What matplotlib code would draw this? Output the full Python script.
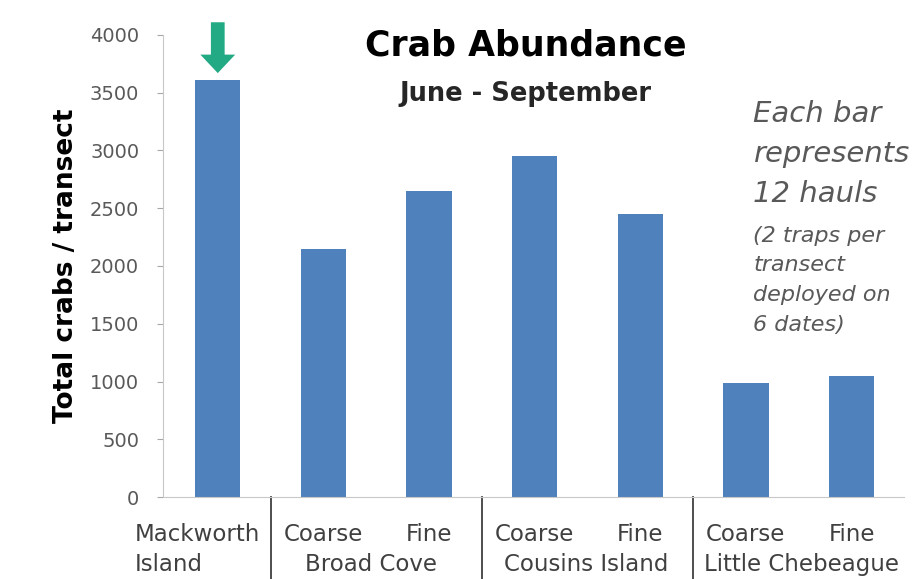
import matplotlib
matplotlib.use('Agg')
from matplotlib import pyplot as plt
from matplotlib import transforms

plt.rcParams['font.family'] = ['DejaVu Sans']

# data
mesh = ['', 'Coarse', 'Fine', 'Coarse', 'Fine', 'Coarse', 'Fine']
crabs = [3610, 2150, 2650, 2950, 2450, 990, 1050]
group_names = ['Broad Cove', 'Cousins Island', 'Little Chebeague']
first_site = ['Mackworth', 'Island']
yticks = [0, 500, 1000, 1500, 2000, 2500, 3000, 3500, 4000]

bar_color = '#4F81BD'
grey_txt = '#595959'
lab_txt = '#404040'

fig = plt.figure(figsize=(9.2, 5.79), dpi=100)
ax = fig.add_axes([0.177, 0.1416, 0.806, 0.798])

x = list(range(len(crabs)))
ax.bar(x, crabs, width=0.43, color=bar_color, zorder=2)

ax.set_xlim(-0.52, len(crabs) - 0.5)
ax.set_ylim(0, 4000)
ax.set_yticks(yticks)
ax.set_yticklabels([str(t) for t in yticks], fontsize=14, color=grey_txt)
ax.tick_params(axis='y', length=4, color='#a6a6a6', pad=13)
ax.set_xticks([])
for s in ('top', 'right'):
    ax.spines[s].set_visible(False)
for s in ('left', 'bottom'):
    ax.spines[s].set_color('#c8c8c8')

ax.set_ylabel('Total crabs / transect', fontsize=19, fontweight='bold', labelpad=8)

# category labels below the axis
trans = transforms.blended_transform_factory(ax.transData, ax.transAxes)
row1, row2 = -0.082, -0.147
ax.text(-0.79, row1, first_site[0], transform=trans, ha='left', va='center',
        fontsize=16.5, color=lab_txt)
ax.text(-0.79, row2, first_site[1], transform=trans, ha='left', va='center',
        fontsize=16.5, color=lab_txt)
for i in range(1, len(crabs)):
    ax.text(i, row1, mesh[i], transform=trans, ha='center', va='center',
            fontsize=16.5, color=lab_txt)
for g, name in enumerate(group_names):
    ax.text(1.45 + 2 * g + 0.04 * g, row2, name, transform=trans, ha='center', va='center',
            fontsize=16.5, color=lab_txt)
for sep in (0.5, 2.5, 4.5):
    ax.plot([sep, sep], [0, -0.18], transform=trans, color='#404040', lw=1.3, clip_on=False)

# green arrow over the tallest bar
ax.arrow(0, crabs[0] + 500, 0, -440, width=0.13, head_width=0.33, head_length=160,
         length_includes_head=True, color='#22aa85', lw=0, clip_on=False, zorder=3)

# titles
fig.text(0.572, 0.922, 'Crab Abundance', ha='center', va='center', fontsize=25, fontweight='bold')
fig.text(0.571, 0.838, 'June - September', ha='center', va='center', fontsize=18.5, fontweight='bold',
         color='#262626')

# side note
fig.text(0.819, 0.828, 'Each bar\nrepresents\n12 hauls', ha='left', va='top', fontsize=21,
         style='italic', color=grey_txt, linespacing=1.55)
fig.text(0.819, 0.610, '(2 traps per\ntransect\ndeployed on\n6 dates)', ha='left', va='top',
         fontsize=16, style='italic', color=grey_txt, linespacing=1.6)

fig.savefig('out.png', dpi=100)
